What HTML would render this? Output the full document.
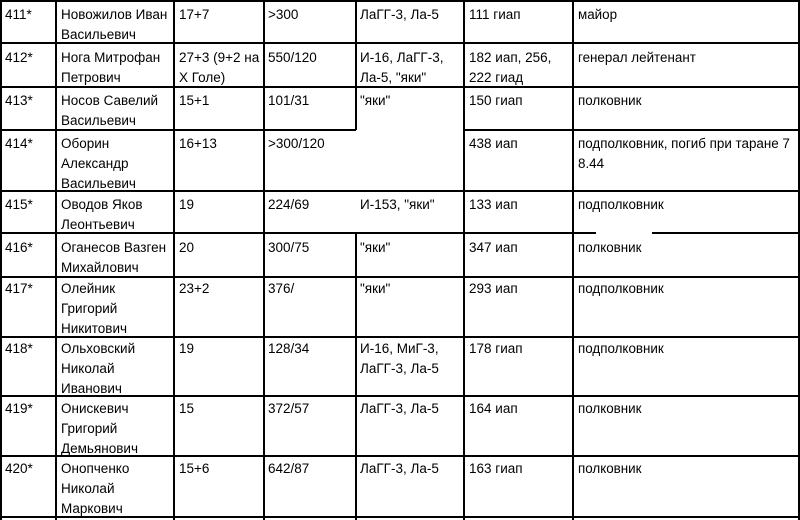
<!DOCTYPE html>
<html><head><meta charset="utf-8"><style>
body{margin:0;width:800px;height:520px;background:#fff;position:relative;overflow:hidden;font-family:"Liberation Sans",Arial,sans-serif;font-size:13.5px;color:#000}
.h{position:absolute;height:2px;background:#000}
.v{position:absolute;width:2px;background:#000}
.t{position:absolute;line-height:20px;white-space:nowrap;margin-top:1px}
.l{font-size:13.4px}
</style></head><body>
<div class="v" style="left:0;top:0;height:520px"></div>
<div class="v" style="left:55px;top:0;height:520px"></div>
<div class="v" style="left:173px;top:0;height:520px"></div>
<div class="v" style="left:263px;top:0;height:520px"></div>
<div class="v" style="left:355px;top:0;height:130px"></div>
<div class="v" style="left:355px;top:233px;height:287px"></div>
<div class="v" style="left:463px;top:0;height:520px"></div>
<div class="v" style="left:572px;top:0;height:520px"></div>
<div class="v" style="left:798px;top:0;height:520px"></div>
<div class="h" style="left:0;top:0;width:800px"></div>
<div class="h" style="left:0;top:42px;width:800px"></div>
<div class="h" style="left:0;top:86px;width:800px"></div>
<div class="h" style="left:0;top:129px;width:356px"></div>
<div class="h" style="left:464px;top:129px;width:336px"></div>
<div class="h" style="left:0;top:190px;width:800px"></div>
<div class="h" style="left:0;top:232px;width:596px"></div>
<div class="h" style="left:652px;top:232px;width:148px"></div>
<div class="h" style="left:0;top:276px;width:800px"></div>
<div class="h" style="left:0;top:336px;width:800px"></div>
<div class="h" style="left:0;top:395px;width:800px"></div>
<div class="h" style="left:0;top:455px;width:800px"></div>
<div class="h" style="left:0;top:516px;width:800px"></div>

<div class="t" style="left:5px;top:4px">411*</div>
<div class="t" style="left:61px;top:4px">Новожилов Иван<br>Васильевич</div>
<div class="t" style="left:179px;top:4px">17+7</div>
<div class="t" style="left:268px;top:4px">&gt;300</div>
<div class="t" style="left:360px;top:4px">ЛаГГ-3, Ла-5</div>
<div class="t" style="left:469px;top:4px">111 гиап</div>
<div class="t l" style="left:578px;top:4px">майор</div>

<div class="t" style="left:5px;top:47px">412*</div>
<div class="t" style="left:61px;top:47px">Нога Митрофан<br>Петрович</div>
<div class="t" style="left:179px;top:47px">27+3 (9+2 на<br>Х Голе)</div>
<div class="t" style="left:268px;top:47px">550/120</div>
<div class="t" style="left:360px;top:47px">И-16, ЛаГГ-3,<br>Ла-5, "яки"</div>
<div class="t" style="left:469px;top:47px">182 иап, 256,<br>222 гиад</div>
<div class="t l" style="left:578px;top:47px">генерал лейтенант</div>

<div class="t" style="left:5px;top:90px">413*</div>
<div class="t" style="left:61px;top:90px">Носов Савелий<br>Васильевич</div>
<div class="t" style="left:179px;top:90px">15+1</div>
<div class="t" style="left:268px;top:90px">101/31</div>
<div class="t" style="left:360px;top:90px">"яки"</div>
<div class="t" style="left:469px;top:90px">150 гиап</div>
<div class="t l" style="left:578px;top:90px">полковник</div>

<div class="t" style="left:5px;top:133px">414*</div>
<div class="t" style="left:61px;top:133px">Оборин<br>Александр<br>Васильевич</div>
<div class="t" style="left:179px;top:133px">16+13</div>
<div class="t" style="left:268px;top:133px">&gt;300/120</div>
<div class="t" style="left:469px;top:133px">438 иап</div>
<div class="t l" style="left:578px;top:133px">подполковник, погиб при таране 7<br>8.44</div>

<div class="t" style="left:5px;top:194px">415*</div>
<div class="t" style="left:61px;top:194px">Оводов Яков<br>Леонтьевич</div>
<div class="t" style="left:179px;top:194px">19</div>
<div class="t" style="left:268px;top:194px">224/69</div>
<div class="t" style="left:360px;top:194px">И-153, "яки"</div>
<div class="t" style="left:469px;top:194px">133 иап</div>
<div class="t l" style="left:578px;top:194px">подполковник</div>

<div class="t" style="left:5px;top:237px">416*</div>
<div class="t" style="left:61px;top:237px">Оганесов Вазген<br>Михайлович</div>
<div class="t" style="left:179px;top:237px">20</div>
<div class="t" style="left:268px;top:237px">300/75</div>
<div class="t" style="left:360px;top:237px">"яки"</div>
<div class="t" style="left:469px;top:237px">347 иап</div>
<div class="t l" style="left:578px;top:237px">полковник</div>

<div class="t" style="left:5px;top:278px">417*</div>
<div class="t" style="left:61px;top:278px">Олейник<br>Григорий<br>Никитович</div>
<div class="t" style="left:179px;top:278px">23+2</div>
<div class="t" style="left:268px;top:278px">376/</div>
<div class="t" style="left:360px;top:278px">"яки"</div>
<div class="t" style="left:469px;top:278px">293 иап</div>
<div class="t l" style="left:578px;top:278px">подполковник</div>

<div class="t" style="left:5px;top:338px">418*</div>
<div class="t" style="left:61px;top:338px">Ольховский<br>Николай<br>Иванович</div>
<div class="t" style="left:179px;top:338px">19</div>
<div class="t" style="left:268px;top:338px">128/34</div>
<div class="t" style="left:360px;top:338px">И-16, МиГ-3,<br>ЛаГГ-3, Ла-5</div>
<div class="t" style="left:469px;top:338px">178 гиап</div>
<div class="t l" style="left:578px;top:338px">подполковник</div>

<div class="t" style="left:5px;top:398px">419*</div>
<div class="t" style="left:61px;top:398px">Онискевич<br>Григорий<br>Демьянович</div>
<div class="t" style="left:179px;top:398px">15</div>
<div class="t" style="left:268px;top:398px">372/57</div>
<div class="t" style="left:360px;top:398px">ЛаГГ-3, Ла-5</div>
<div class="t" style="left:469px;top:398px">164 иап</div>
<div class="t l" style="left:578px;top:398px">полковник</div>

<div class="t" style="left:5px;top:458px">420*</div>
<div class="t" style="left:61px;top:458px">Онопченко<br>Николай<br>Маркович</div>
<div class="t" style="left:179px;top:458px">15+6</div>
<div class="t" style="left:268px;top:458px">642/87</div>
<div class="t" style="left:360px;top:458px">ЛаГГ-3, Ла-5</div>
<div class="t" style="left:469px;top:458px">163 гиап</div>
<div class="t l" style="left:578px;top:458px">полковник</div>
</body></html>
